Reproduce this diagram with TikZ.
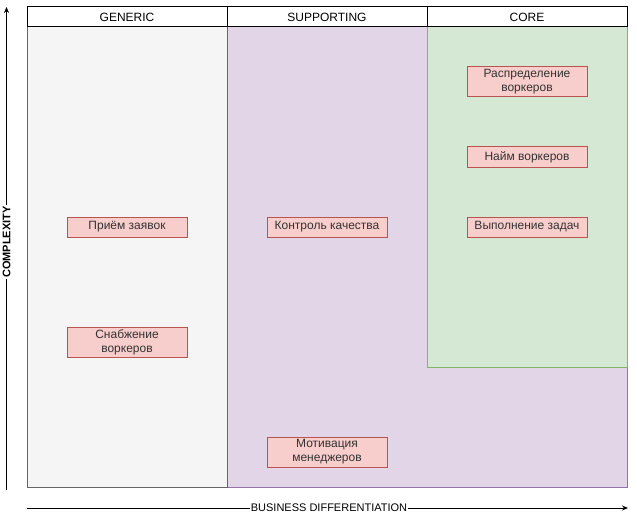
\documentclass[tikz,border=0pt]{standalone}
\usepackage{fontspec}
\setmainfont{Liberation Sans}
\usetikzlibrary{arrows.meta}

\definecolor{genfill}{HTML}{F5F5F5}
\definecolor{gendraw}{HTML}{666666}
\definecolor{supfill}{HTML}{E1D5E7}
\definecolor{supdraw}{HTML}{9673A6}
\definecolor{corefill}{HTML}{D5E8D4}
\definecolor{coredraw}{HTML}{82B366}
\definecolor{taskfill}{HTML}{F8CECC}
\definecolor{taskdraw}{HTML}{B85450}
\definecolor{txt}{HTML}{333333}

\begin{document}
\begin{tikzpicture}[
		x=1pt, y=-1pt,
		every node/.style={inner sep=0pt, font=\fontsize{12}{14}\selectfont},
		header/.style={rectangle, draw=black, fill=white, line width=1pt, minimum width=200pt, minimum height=20pt},
		area/.style={rectangle, line width=1pt},
		task/.style={rectangle, draw=taskdraw, fill=taskfill, text=txt, line width=1pt, minimum width=120pt, minimum height=20pt, align=center},
		tall/.style={minimum height=30pt},
		axis/.style={draw=black, line width=1pt, -{Stealth[length=6pt, width=5pt]}},
		axislabel/.style={fill=white, inner sep=1pt, font=\fontsize{11}{13}\selectfont}
	]
	\useasboundingbox (0,0) rectangle (637,516);
	\node[area, draw=supdraw, fill=supfill, minimum width=400pt, minimum height=460pt] (supporting) at (427,257) {};
	\node[area, draw=gendraw, fill=genfill, minimum width=200pt, minimum height=460pt] (generic) at (127,257) {};
	\node[area, draw=coredraw, fill=corefill, minimum width=200pt, minimum height=340pt] (core) at (527,197) {};
	\node[header] (hgeneric) at (127,17) {GENERIC};
	\node[header] (hsupporting) at (327,17) {SUPPORTING};
	\node[header] (hcore) at (527,17) {CORE};
	\node[task] (priem) at (127,227) {Приём заявок};
	\node[task, tall] (snab) at (127,342) {Снабжение\\воркеров};
	\node[task] (kontrol) at (327,227) {Контроль качества};
	\node[task, tall] (motiv) at (327,452) {Мотивация\\менеджеров};
	\node[task, tall] (raspr) at (527,82) {Распределение\\воркеров};
	\node[task] (naim) at (527,157) {Найм воркеров};
	\node[task] (vypoln) at (527,227) {Выполнение задач};
	\coordinate (ybot) at (6.5,490);
	\coordinate (ytop) at (6.5,7);
	\coordinate (xleft) at (27,508);
	\coordinate (xright) at (628,508);
	\draw[axis] (ybot) -- (ytop);
	\draw[axis] (xleft) -- (xright);
	\node[axislabel, rotate=90, font=\fontsize{11}{13}\selectfont\bfseries] (complexity) at (6.5,242) {COMPLEXITY};
	\node[axislabel] (bizdiff) at (329,508) {BUSINESS DIFFERENTIATION};
\end{tikzpicture}
\end{document}
